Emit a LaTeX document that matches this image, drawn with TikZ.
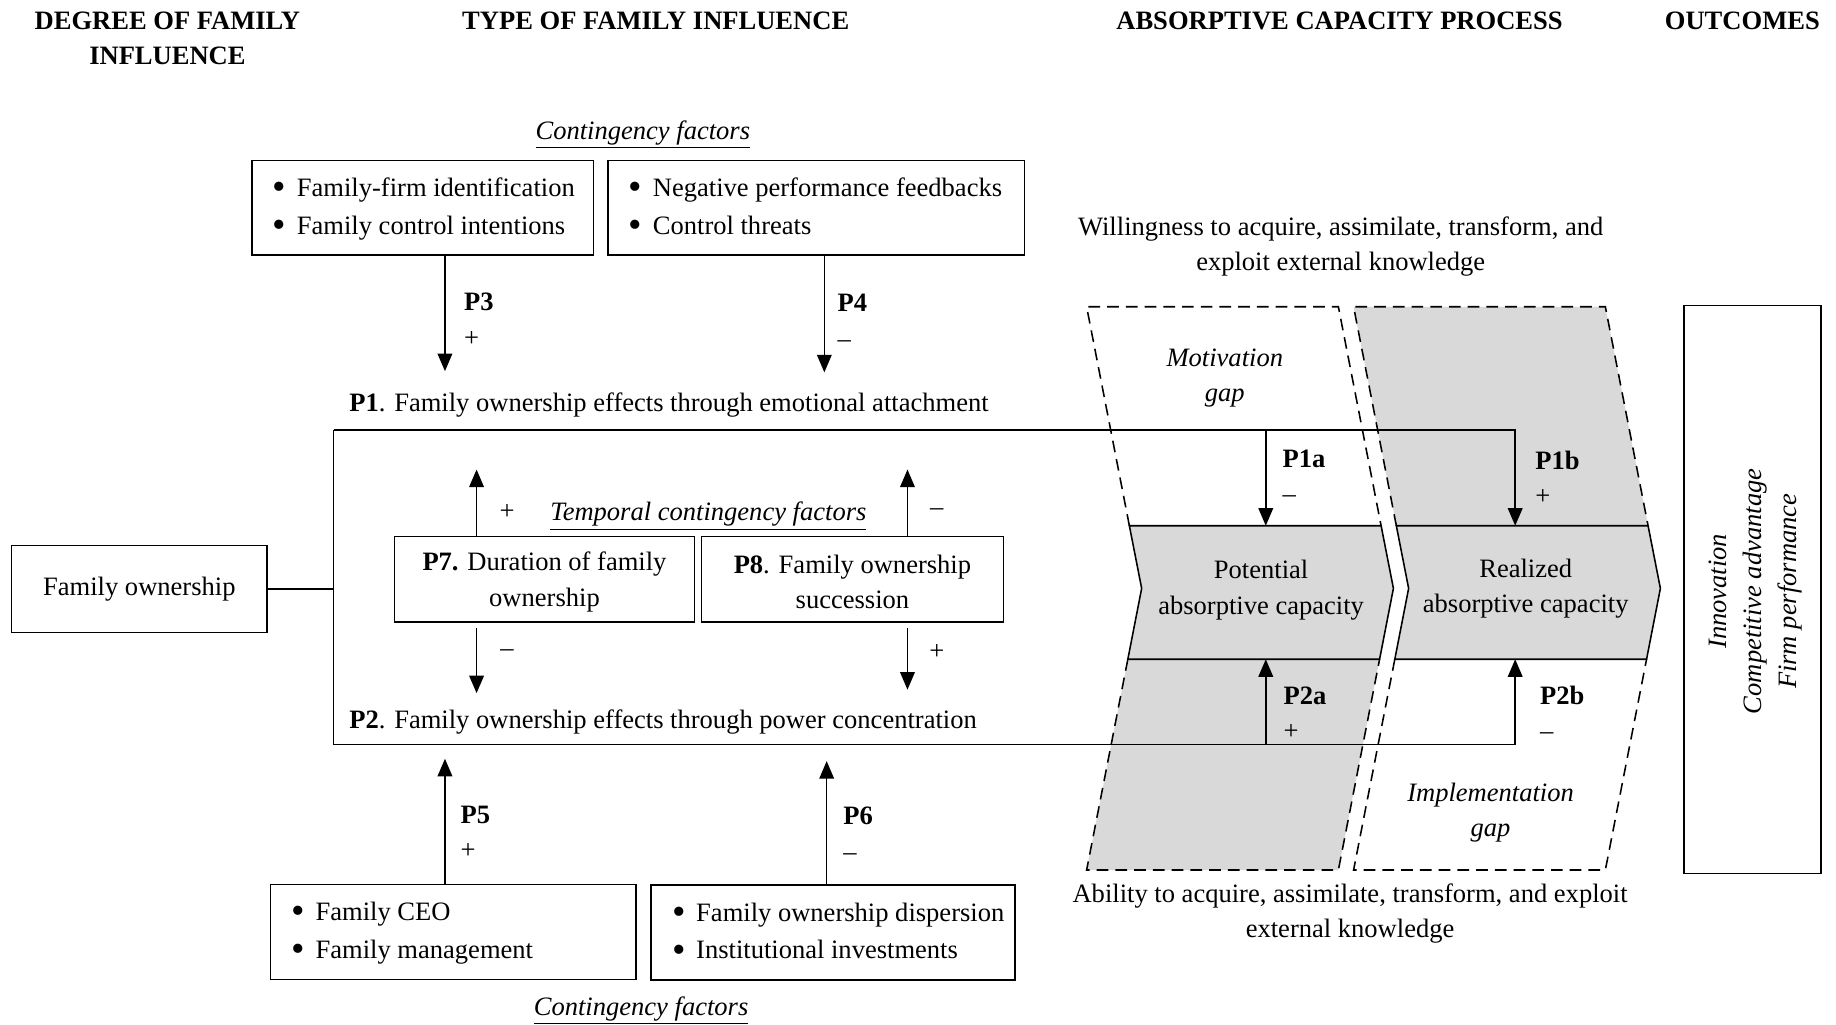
\documentclass[tikz,border=0pt]{standalone}
\usepackage{fontspec}
\setmainfont{Liberation Serif}
\usetikzlibrary{arrows.meta}
\definecolor{capgray}{gray}{0.85}
\tikzstyle{heading} = [font=\bfseries, align=center]
\tikzstyle{factor box} = [draw, line width=0.8pt, minimum height=48.6pt,
inner xsep=10.8pt, inner ysep=0pt]
\tikzstyle{period box} = [draw, line width=0.8pt, minimum width=153.6pt,
minimum height=43.8pt, align=center]
\tikzstyle{plain box} = [draw, line width=0.8pt]
\tikzstyle{flow} = [line width=0.8pt, -{Triangle[length=9pt,width=7.5pt]}]
\tikzstyle{link} = [line width=0.8pt]
\tikzstyle{plabel} = [anchor=west, align=left, inner sep=0pt]
\tikzstyle{gap line} = [line width=0.8pt, dash pattern=on 6pt off 3.6pt]
\tikzstyle{capacity} = [draw, fill=capgray, line width=0.8pt]
\newcommand{\bigbullet}{\raisebox{-0.12em}{\scalebox{1.45}{\textbullet}}}
\newcommand{\bulletpair}[3]{\makebox[#1][l]{\renewcommand{\arraystretch}{1.07}%
\begin{tabular}{@{}l@{}}\bigbullet\hspace{0.4em}#2\\\bigbullet\hspace{0.4em}#3\end{tabular}}}

\begin{document}
\fontsize{13.6pt}{18pt}\selectfont
\begin{tikzpicture}[x=0.6pt,y=-0.6pt]
  \useasboundingbox (0,0) rectangle (1568,875);

  % headings
  \node[heading] (h degree) at (143,33) {DEGREE OF FAMILY\\INFLUENCE};
  \node[heading] (h type) at (560,18) {TYPE OF FAMILY INFLUENCE};
  \node[heading] (h process) at (1144,18) {ABSORPTIVE CAPACITY PROCESS};
  \node[heading] (h outcomes) at (1488,18) {OUTCOMES};

  % absorptive capacity columns
  \foreach \dx/\upper/\lower in {0/white/capgray, 228/capgray/white} {
    \begin{scope}[shift={(\dx,0)}]
      \fill[\upper] (928,262) -- (1143,262) -- (1179.5,449) -- (964.5,449) -- cycle;
      \fill[\lower] (963.2,563) -- (1178.2,563) -- (1143,743) -- (928,743) -- cycle;
      \draw[gap line] (964.5,449) -- (928,262) -- (1143,262) -- (1179.5,449);
      \draw[gap line] (963.2,563) -- (928,743) -- (1143,743) -- (1178.2,563);
      \draw[capacity] (964.5,449) -- (1179.5,449) -- (1190,502.5)
        -- (1178.2,563) -- (963.2,563) -- (975,502.5) -- cycle;
    \end{scope}
  }
  \node[align=center] (pac) at (1077,504) {Potential\\absorptive capacity};
  \node[align=center] (rac) at (1303,502.5) {Realized\\absorptive capacity};
  \node[align=center, font=\itshape] (motivation) at (1046,322.5) {Motivation\\gap};
  \node[align=center, font=\itshape] (implementation) at (1273,694) {Implementation\\gap};
  \node[align=center] (willingness) at (1145,210.5)
    {Willingness to acquire, assimilate, transform, and\\exploit external knowledge};
  \node[align=center] (ability) at (1153,780.5)
    {Ability to acquire, assimilate, transform, and exploit\\external knowledge};

  % outcomes
  \node[plain box, minimum width=70.2pt, minimum height=291pt] (outcomes) at (1496.5,503.5) {};
  \node[rotate=90, align=center, font=\itshape] (outcome list) at (1499,505)
    {Innovation\\Competitive advantage\\Firm performance};

  % contingency factors
  \node[font=\itshape] (contingency top) at (549,115) {\underline{Contingency factors}};
  \node[factor box] (identity) at (361,177.5)
    {\bulletpair{153.6pt}{Family-firm identification}{Family control intentions}};
  \node[factor box] (threats) at (697,177.5)
    {\bulletpair{192pt}{Negative performance feedbacks}{Control threats}};
  \node[factor box] (management) at (387,796)
    {\bulletpair{165.6pt}{Family CEO}{Family management}};
  \node[factor box] (dispersion) at (711.5,796.5)
    {\bulletpair{165pt}{Family ownership dispersion}{Institutional investments}};
  \node[font=\itshape] (contingency bottom) at (547.5,863) {\underline{Contingency factors}};

  % family ownership and its two paths
  \node[plain box, minimum width=130.8pt, minimum height=44.4pt] (ownership) at (119,503)
    {\raisebox{-2.5pt}{Family ownership}};
  \node[anchor=west, inner sep=0pt] (p1 text) at (298,346)
    {\textbf{P1}. Family ownership effects through emotional attachment};
  \node[anchor=west, inner sep=0pt] (p2 text) at (298,617)
    {\textbf{P2}. Family ownership effects through power concentration};
  \node[period box] (duration) at (465,494.5) {\strut\textbf{P7.} Duration of family\\ownership};
  \node[period box, minimum width=154.8pt] (succession) at (728,494.5)
    {\strut\textbf{P8}. Family ownership\\succession};
  \node[font=\itshape] (temporal) at (605,441) {\underline{Temporal contingency factors}};

  \coordinate (hub) at (285,503);
  \coordinate (p1 corner) at (285,367);
  \coordinate (p2 corner) at (285,636);
  \coordinate (pac n) at (1081,449);
  \coordinate (pac s) at (1081,563);
  \coordinate (rac n) at (1294,449);
  \coordinate (rac s) at (1294,563);
  \coordinate (p3 tip) at (380,317);
  \coordinate (p4 tip) at (704,318);
  \coordinate (p5 tip) at (380,648);
  \coordinate (p6 tip) at (706,650);
  \coordinate (p7 up) at (407,401);
  \coordinate (p7 start) at (407,536);
  \coordinate (p7 down) at (407,592);
  \coordinate (p8 up) at (775,401);
  \coordinate (p8 start) at (775,536);
  \coordinate (p8 down) at (775,589);

  \draw[link] (ownership) -- (hub);
  \draw[link] (p1 corner) -- (p2 corner);
  \draw[flow] (p1 corner) -| (rac n);
  \draw[flow] (p2 corner) -| (rac s);
  \draw[flow] (pac n |- p1 corner) -- (pac n);
  \draw[flow] (pac s |- p2 corner) -- (pac s);
  \draw[flow] (p3 tip |- identity.south) -- (p3 tip);
  \draw[flow] (p4 tip |- threats.south) -- (p4 tip);
  \draw[flow] (p5 tip |- management.north) -- (p5 tip);
  \draw[flow] (p6 tip |- dispersion.north) -- (p6 tip);
  \draw[flow] (p7 up |- duration.north) -- (p7 up);
  \draw[flow] (p7 start) -- (p7 down);
  \draw[flow] (p8 up |- succession.north) -- (p8 up);
  \draw[flow] (p8 start) -- (p8 down);

  % proposition labels
  \node[plabel] (p3 label) at (396,273) {\textbf{P3}\\+};
  \node[plabel] (p4 label) at (715,274) {\textbf{P4}\\--};
  \node[plabel] (p5 label) at (393,711) {\textbf{P5}\\+};
  \node[plabel] (p6 label) at (720,712) {\textbf{P6}\\--};
  \node[plabel] (p1a label) at (1095,407) {\textbf{P1a}\\--};
  \node[plabel] (p1b label) at (1311,408) {\textbf{P1b}\\+};
  \node[plabel] (p2a label) at (1096,609) {\textbf{P2a}\\+};
  \node[plabel] (p2b label) at (1315,609) {\textbf{P2b}\\--};
  \node (p7 plus) at (433,437) {+};
  \node (p7 minus) at (433,558) {--};
  \node (p8 minus) at (800,437) {--};
  \node (p8 plus) at (800,557) {+};
\end{tikzpicture}
\end{document}
